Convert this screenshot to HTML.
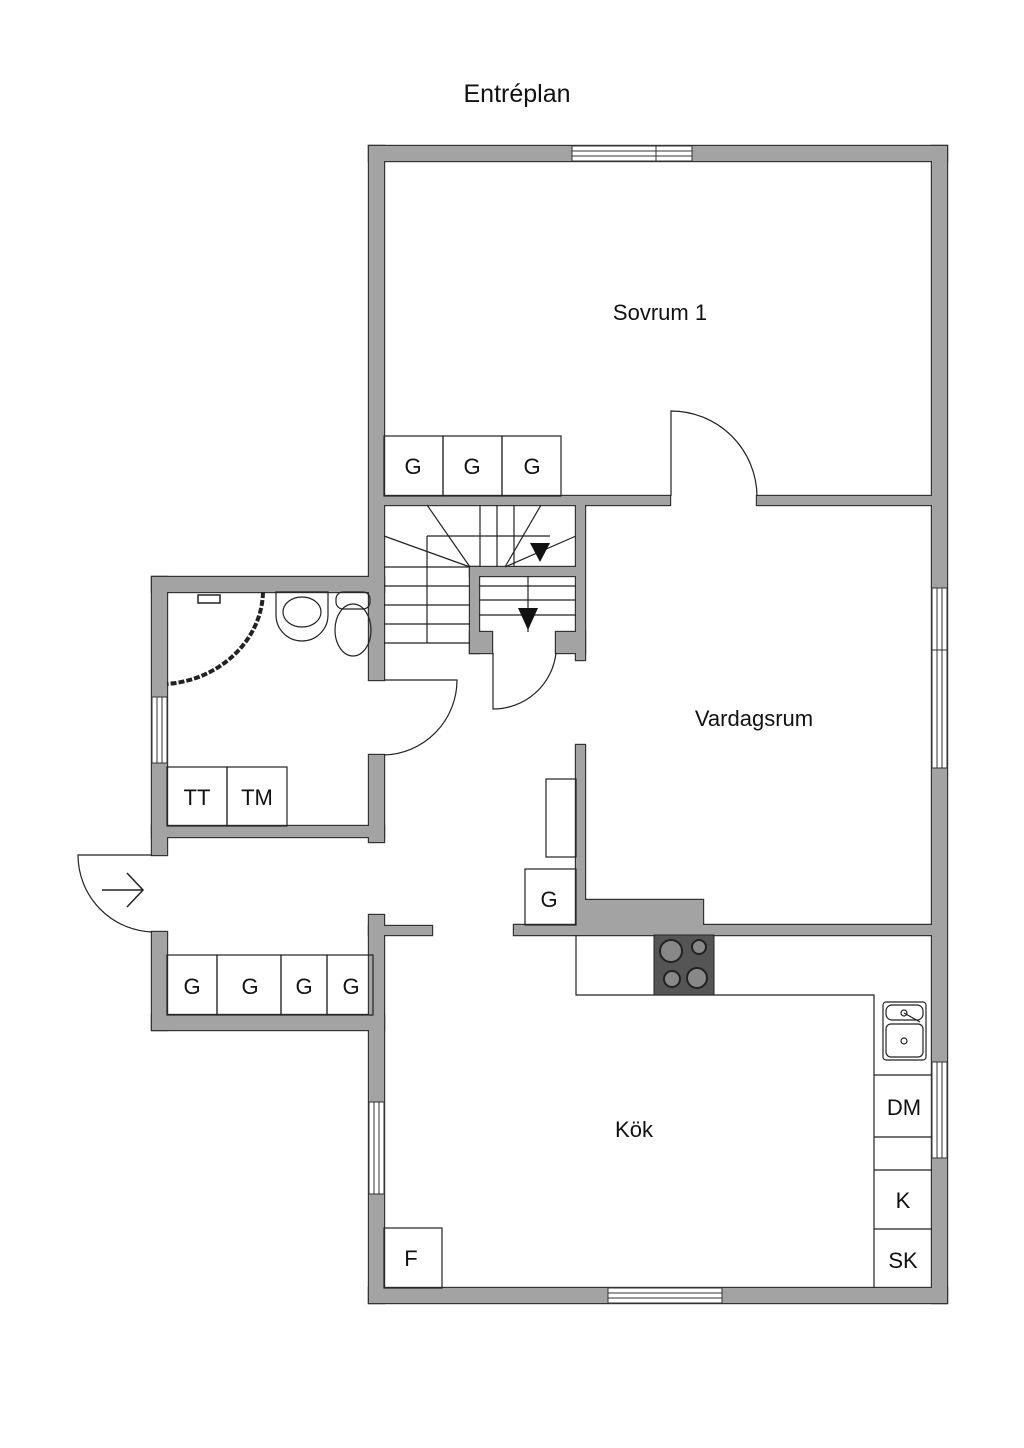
<!DOCTYPE html>
<html><head><meta charset="utf-8"><style>
html,body{margin:0;padding:0;background:#fff;}
svg{display:block}
text{font-family:"Liberation Sans",sans-serif;fill:#111}
</style></head><body>
<svg width="1024" height="1448" viewBox="0 0 1024 1448" xmlns="http://www.w3.org/2000/svg">
<defs>
<g id="walls">
<rect x="369" y="146" width="578" height="15"/>
<rect x="932" y="146" width="15" height="1157"/>
<rect x="369" y="1288" width="578" height="15"/>
<rect x="369" y="146" width="15" height="534"/>
<rect x="369" y="755" width="15" height="87"/>
<rect x="369" y="915" width="15" height="388"/>
<rect x="152" y="577" width="232" height="15"/>
<rect x="152" y="577" width="15" height="278"/>
<rect x="152" y="826" width="232" height="11"/>
<rect x="152" y="932" width="15" height="98"/>
<rect x="152" y="1015" width="232" height="15"/>
<rect x="369" y="926" width="63" height="9"/>
<rect x="384" y="496" width="286" height="9"/>
<rect x="757" y="496" width="175" height="9"/>
<rect x="576" y="505" width="9" height="155"/>
<rect x="470" y="567" width="106" height="9"/>
<rect x="470" y="567" width="9" height="86"/>
<rect x="470" y="632" width="22" height="21"/>
<rect x="556" y="632" width="29" height="21"/>
<rect x="576" y="745" width="9" height="180"/>
<polygon points="585,900 703,900 703,925 932,925 932,935 514,935 514,925 585,925"/>
</g>
</defs>
<text x="517" y="102" font-size="25" text-anchor="middle">Entréplan</text>
<use href="#walls" fill="#333" stroke="#333" stroke-width="2.4"/>
<use href="#walls" fill="#a3a3a3"/>
<g fill="#fff" stroke="#333" stroke-width="1">
<rect x="572" y="146" width="120" height="15"/><line x1="572" y1="151" x2="692" y2="151"/><line x1="572" y1="156" x2="692" y2="156"/><line x1="656" y1="146" x2="656" y2="161"/>
<rect x="608" y="1288" width="114" height="15"/><line x1="608" y1="1293" x2="722" y2="1293"/><line x1="608" y1="1298" x2="722" y2="1298"/>
<rect x="932" y="588" width="15" height="180"/><line x1="937" y1="588" x2="937" y2="768"/><line x1="942" y1="588" x2="942" y2="768"/><line x1="932" y1="650" x2="947" y2="650"/>
<rect x="932" y="1062" width="15" height="96"/><line x1="937" y1="1062" x2="937" y2="1158"/><line x1="942" y1="1062" x2="942" y2="1158"/>
<rect x="152" y="697" width="15" height="66"/><line x1="157" y1="697" x2="157" y2="763"/><line x1="162" y1="697" x2="162" y2="763"/>
<rect x="369" y="1102" width="15" height="92"/><line x1="374" y1="1102" x2="374" y2="1194"/><line x1="379" y1="1102" x2="379" y2="1194"/>
</g>
<g fill="none" stroke="#222" stroke-width="1.2">
<rect x="384" y="436" width="59" height="60"/><rect x="443" y="436" width="59" height="60"/><rect x="502" y="436" width="59" height="60"/>
<path d="M671,496 V411 A86,86 0 0 1 757,496"/>
<path d="M384,680 H457 A75,75 0 0 1 384,755"/>
<path d="M493,653 V709 A63,63 0 0 0 556,653"/>
<path d="M152,855 H78 A77,77 0 0 0 152,932"/>
<path d="M102,890 H142 M127,873 L143,890 L127,907" stroke-width="1.5"/>
<line x1="384" y1="643" x2="470" y2="643"/>
<line x1="384" y1="567" x2="470" y2="567"/><line x1="384" y1="586" x2="470" y2="586"/><line x1="384" y1="605" x2="470" y2="605"/><line x1="384" y1="624" x2="470" y2="624"/>
<line x1="427" y1="536" x2="427" y2="643"/><line x1="427" y1="536" x2="550" y2="536"/>
<line x1="427" y1="505" x2="470" y2="567"/><line x1="384" y1="536" x2="470" y2="567"/>
<line x1="480" y1="505" x2="480" y2="567"/><line x1="497" y1="505" x2="497" y2="567"/><line x1="514" y1="505" x2="514" y2="567"/>
<line x1="541" y1="505" x2="505" y2="567"/><line x1="576" y1="536" x2="505" y2="567"/>
<line x1="479" y1="586" x2="576" y2="586"/><line x1="479" y1="600" x2="576" y2="600"/><line x1="479" y1="615" x2="576" y2="615"/>
<line x1="528" y1="576" x2="528" y2="632"/>
<rect x="167" y="767" width="60" height="59"/><rect x="227" y="767" width="60" height="59"/>
<rect x="167" y="955" width="50" height="60"/><rect x="217" y="955" width="64" height="60"/><rect x="281" y="955" width="46" height="60"/><rect x="327" y="955" width="46" height="60"/>
<rect x="525" y="869" width="51" height="56"/>
<rect x="546" y="779" width="30" height="78"/>
<path d="M576,935 V995 H874 V1288"/>
<line x1="874" y1="1075" x2="932" y2="1075"/><line x1="874" y1="1137" x2="932" y2="1137"/><line x1="874" y1="1170" x2="932" y2="1170"/><line x1="874" y1="1229" x2="932" y2="1229"/>
<rect x="384" y="1228" width="58" height="60"/>
<rect x="883" y="1002" width="43" height="58" rx="3"/>
<rect x="886" y="1005" width="37" height="15" rx="6"/>
<rect x="886" y="1024" width="37" height="33" rx="5"/>
<circle cx="904" cy="1041" r="3"/><circle cx="904" cy="1013" r="3"/><line x1="904" y1="1013" x2="920" y2="1022"/>
<path d="M276,592 H328 V615 A26,26 0 0 1 276,615 Z"/>
<ellipse cx="302" cy="612" rx="19" ry="15"/>
<rect x="336" y="592" width="34" height="17" rx="7"/>
<ellipse cx="353" cy="630" rx="18" ry="26"/>
<path d="M263,592 C262,640 220,680 167,684" stroke-width="4" stroke-dasharray="6 2"/>
<path d="M198,595 h22 v8 h-22z" stroke-width="1.5"/>
</g>
<polygon points="530,543 550,543 540,562" fill="#111"/>
<polygon points="518,608 538,608 528,630" fill="#111"/>
<rect x="654" y="935" width="60" height="60" fill="#555" stroke="#222"/>
<g fill="#888" stroke="#222" stroke-width="2">
<circle cx="671" cy="951" r="11"/><circle cx="699" cy="947" r="7"/><circle cx="672" cy="979" r="8"/><circle cx="697" cy="978" r="10"/>
</g>
<g font-size="22" text-anchor="middle">
<text x="660" y="320">Sovrum 1</text>
<text x="754" y="726">Vardagsrum</text>
<text x="634" y="1137">Kök</text>
<text x="413" y="474">G</text><text x="472" y="474">G</text><text x="532" y="474">G</text>
<text x="197" y="805">TT</text><text x="257" y="805">TM</text>
<text x="192" y="994">G</text><text x="250" y="994">G</text><text x="304" y="994">G</text><text x="351" y="994">G</text>
<text x="549" y="907">G</text>
<text x="904" y="1115">DM</text>
<text x="903" y="1208">K</text>
<text x="903" y="1268">SK</text>
<text x="411" y="1266">F</text>
</g>
</svg>
</body></html>
